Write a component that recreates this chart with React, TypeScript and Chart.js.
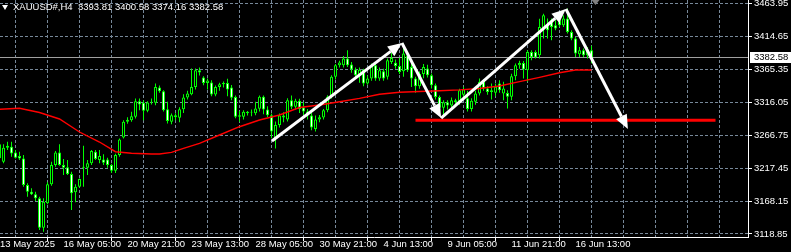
import React, { useEffect, useRef } from "react";
import { Chart, registerables } from "chart.js";
Chart.register(...registerables);

// ---- data (H4 bars, index = bar number from the left edge) ----
const opens = [
  3232, 3226.9, 3250.8, 3249.3, 3240.9, 3235.4, 3231.9, 3192.0, 3182.0, 3178.1,
  3172.2, 3128.2, 3164.7, 3193.1, 3221.9, 3240.9, 3221.9, 3218.5, 3208.5, 3181.1,
  3189.5, 3218.0, 3218.0, 3224.5, 3241.8, 3229.4, 3230.4, 3230.4, 3221.9, 3213.4,
  3236.9, 3263.3, 3286.6, 3289.1, 3294.1, 3317.5, 3315.0, 3303.1, 3315.6, 3315.0,
  3338.0, 3332.5, 3305.6, 3286.6, 3296.6, 3292.6, 3305.6, 3323.1, 3328.0, 3338.9,
  3363.8, 3352.9, 3344.9, 3345.4, 3327.5, 3338.9, 3342.9, 3344.9, 3337.9, 3323.9,
  3294.1, 3294.1, 3299.3, 3300.6, 3299.3, 3306.1, 3324.0, 3305.1, 3296.6, 3261.8,
  3282.0, 3296.0, 3290.0, 3319.0, 3309.0, 3318.0, 3308.0, 3302.0, 3296.0, 3276.0,
  3290.0, 3293.0, 3304.0, 3324.0, 3353.9, 3371.3, 3371.3, 3381.3, 3372.3, 3364.9,
  3356.4, 3364.4, 3344.0, 3351.4, 3371.3, 3351.4, 3362.3, 3353.9, 3376.3, 3375.0,
  3370.0, 3362.3, 3386.0, 3368.8, 3351.4, 3340.0, 3358.0, 3366.4, 3356.4, 3341.4,
  3323.9, 3307.6, 3316.0, 3311.0, 3318.9, 3316.5, 3327.0, 3322.0, 3306.0, 3316.5,
  3329.0, 3346.4, 3336.4, 3331.4, 3330.0, 3344.0, 3329.0, 3329.9, 3324.0, 3354.9,
  3371.3, 3374.8, 3363.8, 3391.2, 3391.2, 3386.3, 3426.1, 3431.1, 3438.5, 3431.1,
  3438.5, 3431.1, 3441.1, 3421.1, 3411.2, 3387.8, 3393.7, 3386.3, 3393.81,
];
const highs = [
  3255, 3252.9, 3256.7, 3256.7, 3244.3, 3241.8, 3236.9, 3194.6, 3187.1, 3182.0,
  3174.6, 3172.2, 3196.1, 3226.9, 3242.8, 3252.9, 3230.9, 3229.4, 3211.9, 3193.1,
  3202.0, 3250.8, 3229.4, 3244.3, 3244.3, 3244.3, 3238.0, 3233.0, 3224.0, 3239.0,
  3261.8, 3289.1, 3293.6, 3301.6, 3321.6, 3321.6, 3319.0, 3317.5, 3321.6, 3344.0,
  3341.0, 3334.0, 3316.5, 3299.0, 3299.6, 3308.6, 3328.0, 3333.0, 3366.4, 3366.4,
  3368.0, 3354.9, 3351.4, 3349.0, 3341.0, 3345.0, 3347.0, 3350.9, 3341.9, 3326.0,
  3303.0, 3304.0, 3303.0, 3305.0, 3316.5, 3326.0, 3326.0, 3310.0, 3299.0, 3287.0,
  3299.0, 3301.0, 3322.0, 3326.0, 3321.0, 3321.0, 3316.0, 3306.0, 3300.0, 3296.0,
  3297.0, 3306.0, 3326.5, 3356.4, 3373.3, 3378.0, 3385.0, 3393.7, 3376.0, 3368.0,
  3368.0, 3366.0, 3356.0, 3374.0, 3375.0, 3368.0, 3366.0, 3381.3, 3390.0, 3380.0,
  3382.0, 3403.7, 3390.0, 3373.9, 3354.0, 3362.0, 3373.0, 3372.0, 3358.9, 3344.0,
  3326.0, 3319.0, 3319.0, 3323.0, 3321.0, 3336.0, 3339.0, 3333.0, 3322.0, 3333.0,
  3351.4, 3350.0, 3340.0, 3344.0, 3344.0, 3349.0, 3346.4, 3333.9, 3358.4, 3374.0,
  3378.0, 3377.8, 3393.7, 3393.7, 3393.7, 3441.0, 3448.5, 3441.1, 3441.1, 3438.5,
  3443.5, 3446.0, 3456.0, 3423.6, 3413.6, 3398.7, 3396.2, 3398.7, 3400.58,
];
const lows = [
  3225, 3224.5, 3244.3, 3234.3, 3231.9, 3229.4, 3189.5, 3174.6, 3177.1, 3168.1,
  3124.8, 3122.3, 3163.2, 3191.0, 3219.4, 3220.9, 3207.0, 3207.0, 3154.7, 3166.2,
  3188.0, 3189.5, 3207.0, 3221.9, 3229.4, 3224.5, 3222.0, 3218.0, 3210.0, 3210.0,
  3234.3, 3261.8, 3283.6, 3286.6, 3291.7, 3304.1, 3289.1, 3301.0, 3312.5, 3311.6,
  3330.0, 3302.0, 3284.2, 3283.0, 3289.0, 3286.0, 3300.0, 3320.0, 3326.5, 3335.0,
  3356.0, 3341.4, 3335.0, 3325.0, 3325.0, 3333.0, 3338.0, 3325.0, 3319.0, 3292.0,
  3286.6, 3290.0, 3296.0, 3295.0, 3296.6, 3302.0, 3298.0, 3294.0, 3262.0, 3246.8,
  3278.0, 3286.0, 3287.0, 3306.0, 3305.0, 3300.0, 3297.0, 3290.0, 3274.0, 3272.0,
  3286.0, 3290.0, 3301.0, 3321.6, 3350.0, 3368.0, 3368.0, 3368.8, 3360.0, 3353.0,
  3345.0, 3340.0, 3342.0, 3348.0, 3348.0, 3348.0, 3348.0, 3350.0, 3373.0, 3366.0,
  3358.0, 3354.0, 3361.3, 3338.9, 3330.0, 3336.0, 3352.0, 3353.0, 3336.4, 3320.0,
  3301.0, 3296.0, 3305.0, 3308.0, 3312.0, 3312.0, 3322.0, 3302.0, 3302.0, 3312.0,
  3326.0, 3333.0, 3327.0, 3320.0, 3325.0, 3330.0, 3319.0, 3306.6, 3319.0, 3349.0,
  3366.0, 3351.4, 3346.4, 3378.8, 3381.3, 3381.3, 3411.2, 3411.2, 3408.7, 3423.6,
  3428.5, 3428.5, 3418.6, 3408.7, 3383.7, 3383.7, 3383.7, 3381.3, 3374.16,
];
const closes = [
  3253, 3247.8, 3247.8, 3239.4, 3232.8, 3231.9, 3192.0, 3182.0, 3178.1, 3172.2,
  3128.2, 3167.1, 3193.1, 3221.9, 3240.9, 3221.9, 3217.9, 3208.5, 3179.6, 3189.5,
  3201.0, 3219.4, 3224.5, 3242.8, 3230.9, 3235.4, 3225.4, 3221.9, 3213.4, 3236.9,
  3260.3, 3286.6, 3289.6, 3295.1, 3317.5, 3312.5, 3303.1, 3315.6, 3316.6, 3338.9,
  3332.5, 3304.1, 3287.7, 3296.6, 3293.6, 3305.6, 3323.1, 3329.0, 3338.9, 3363.8,
  3360.5, 3344.9, 3348.4, 3327.5, 3338.9, 3342.9, 3344.9, 3334.9, 3322.5, 3294.1,
  3296.6, 3301.6, 3301.6, 3301.6, 3306.6, 3324.0, 3305.1, 3296.6, 3272.0, 3282.0,
  3296.0, 3293.0, 3319.0, 3309.0, 3318.0, 3306.0, 3302.0, 3296.0, 3278.0, 3290.0,
  3293.6, 3304.0, 3324.0, 3353.9, 3371.3, 3375.3, 3381.3, 3371.3, 3364.9, 3356.4,
  3364.4, 3344.0, 3351.4, 3371.3, 3351.4, 3363.8, 3351.4, 3378.8, 3382.3, 3370.3,
  3361.3, 3388.7, 3363.8, 3351.4, 3340.0, 3358.0, 3368.8, 3356.4, 3341.4, 3323.9,
  3307.6, 3316.0, 3311.0, 3318.9, 3316.0, 3334.0, 3335.0, 3306.0, 3318.0, 3329.0,
  3346.4, 3336.4, 3331.4, 3334.0, 3339.0, 3334.0, 3336.4, 3324.0, 3354.9, 3371.3,
  3374.8, 3364.9, 3391.2, 3383.7, 3382.8, 3428.5, 3446.0, 3423.6, 3428.5, 3426.1,
  3431.1, 3441.1, 3421.1, 3411.2, 3388.8, 3393.7, 3386.3, 3393.7, 3382.58,
];

// moving average (red) read at sample bars
const maBars = [0, 5, 10, 15, 20, 25, 29, 33, 38, 40, 43, 46, 50, 55, 60, 65, 70, 75, 80, 85, 90, 95, 100, 105, 110, 115, 120, 125, 130, 135, 140, 144, 148];
const maValues = [3305.4, 3306.9, 3300.6, 3290.9, 3271.4, 3256.4, 3241.9, 3239.5, 3238.5, 3238.5, 3241.0, 3247.0, 3254.5, 3266.9, 3279.3, 3289.4, 3296.8, 3308.1, 3311.8, 3316.7, 3321.8, 3327.8, 3330.8, 3332.0, 3333.2, 3334.5, 3336.5, 3340.2, 3346.7, 3353.2, 3360.1, 3364.2, 3364.2];

// drawn objects
const levelBars = [104, 179];
const levelPrice = 3288.9;
const arrowBars = [68.1, 100.6, 110.4, 141.6, 157.1];
const arrowPrices = [3257.9, 3404.6, 3292.3, 3455.4, 3275.9];
const shiftBar = 149;

// axes
const yTicks = [3118.85, 3168.15, 3217.45, 3266.75, 3316.05, 3365.35, 3414.65, 3463.95];
const tickBars = [0, 16, 32, 48, 64, 80, 96, 112, 128, 144];
const tickLabels = ["13 May 2025", "16 May 05:00", "20 May 21:00", "23 May 13:00", "28 May 05:00", "30 May 21:00", "4 Jun 13:00", "9 Jun 05:00", "11 Jun 21:00", "16 Jun 13:00"];
const gridBars = [8, 16, 24, 32, 40, 48, 56, 64, 72, 80, 88, 96, 104, 112, 120, 128, 136, 144, 152, 160, 168, 176, 184];

const header = "XAUUSD#,H4  3393.81 3400.58 3374.16 3382.58";

const X_MIN = 0.125;
const X_MAX = 187.125;
const Y_MIN = 3114.3;
const Y_MAX = 3468.9;
const FONT = '"Liberation Sans", Arial, sans-serif';
const LIME = "#00ff00";

function drawArrow(ctx: CanvasRenderingContext2D, x1: number, y1: number, x2: number, y2: number) {
  const ang = Math.atan2(y2 - y1, x2 - x1);
  const headLen = 14;
  const headW = 6;
  const bx = x2 - Math.cos(ang) * headLen;
  const by = y2 - Math.sin(ang) * headLen;
  ctx.beginPath();
  ctx.moveTo(x1, y1);
  ctx.lineTo(bx, by);
  ctx.stroke();
  ctx.beginPath();
  ctx.moveTo(x2, y2);
  ctx.lineTo(bx + Math.sin(ang) * headW, by - Math.cos(ang) * headW);
  ctx.lineTo(bx - Math.sin(ang) * headW, by + Math.cos(ang) * headW);
  ctx.closePath();
  ctx.fill();
}

const overlayPlugin = {
  id: "mtOverlay",
  beforeDatasetsDraw(chart: any) {
    const { ctx, chartArea, scales } = chart;
    const last = closes[closes.length - 1];
    const yp = Math.floor(scales.y.getPixelForValue(last)) + 0.5;
    ctx.save();
    ctx.strokeStyle = "#a0a0a0";
    ctx.lineWidth = 1;
    ctx.beginPath();
    ctx.moveTo(chartArea.left, yp);
    ctx.lineTo(chartArea.right, yp);
    ctx.stroke();
    ctx.restore();
  },
  afterDatasetsDraw(chart: any) {
    const { ctx, scales, chartArea } = chart;
    ctx.save();
    ctx.beginPath();
    ctx.rect(chartArea.left, chartArea.top, chartArea.right - chartArea.left, chartArea.bottom - chartArea.top);
    ctx.clip();
    ctx.strokeStyle = "#ffffff";
    ctx.fillStyle = "#ffffff";
    ctx.lineWidth = 3;
    for (let i = 0; i < arrowBars.length - 1; i++) {
      drawArrow(
        ctx,
        scales.x.getPixelForValue(arrowBars[i]),
        scales.y.getPixelForValue(arrowPrices[i]),
        scales.x.getPixelForValue(arrowBars[i + 1]),
        scales.y.getPixelForValue(arrowPrices[i + 1])
      );
    }
    ctx.restore();
  },
  afterDraw(chart: any) {
    const { ctx, chartArea, scales, width } = chart;
    const last = closes[closes.length - 1];
    const yp = scales.y.getPixelForValue(last);
    ctx.save();
    const top = Math.round(yp) - 6;
    ctx.fillStyle = "#ffffff";
    ctx.fillRect(chartArea.right + 2, top, width - chartArea.right - 2, 11);
    ctx.fillStyle = "#000000";
    ctx.font = `9.5px ${FONT}`;
    ctx.textBaseline = "middle";
    ctx.textAlign = "left";
    ctx.fillText(last.toFixed(2), chartArea.right + 6, top + 5.5);
    // chart shift marker
    const cx = scales.x.getPixelForValue(shiftBar);
    ctx.fillStyle = "#808080";
    ctx.beginPath();
    ctx.moveTo(cx - 4, chartArea.top);
    ctx.lineTo(cx + 4, chartArea.top);
    ctx.lineTo(cx, chartArea.top + 5);
    ctx.closePath();
    ctx.fill();
    ctx.restore();
  },
};

export default function App() {
  const ref = useRef<HTMLCanvasElement>(null);

  useEffect(() => {
    const canvas = ref.current;
    if (!canvas) return;
    const wickData = highs.map((h, i) => ({ x: i, y: [lows[i], h] }));
    const bodyData = opens.map((o, i) => ({ x: i, y: [o, closes[i]] }));
    const bodyFill = opens.map((o, i) => (closes[i] >= o ? "#000000" : "#ffffff"));
    const maData = maBars.map((b, i) => ({ x: b, y: maValues[i] }));
    const levelData = levelBars.map((b) => ({ x: b, y: levelPrice }));

    const isLabelTick = (v: number) => v === X_MIN || tickBars.indexOf(v) >= 0;
    const labelFor = (v: number) => {
      const idx = tickBars.indexOf(v === X_MIN ? 0 : v);
      return idx >= 0 ? tickLabels[idx] : "";
    };

    const chart = new Chart(canvas, {
      type: "bar",
      data: {
        datasets: [
          {
            type: "line",
            data: levelData,
            borderColor: "#ff0000",
            borderWidth: 3,
            pointRadius: 0,
            order: 0,
          } as any,
          {
            type: "line",
            data: maData,
            borderColor: "#ff0000",
            borderWidth: 1.4,
            pointRadius: 0,
            tension: 0,
            order: 1,
          } as any,
          {
            type: "bar",
            data: bodyData,
            backgroundColor: bodyFill,
            borderColor: LIME,
            borderWidth: 1,
            borderSkipped: false,
            barThickness: 3,
            grouped: false,
            inflateAmount: 0,
            order: 2,
          } as any,
          {
            type: "bar",
            data: wickData,
            backgroundColor: LIME,
            borderWidth: 0,
            barThickness: 1,
            grouped: false,
            inflateAmount: 0,
            order: 3,
          } as any,
        ],
      },
      options: {
        responsive: false,
        maintainAspectRatio: false,
        devicePixelRatio: 1,
        animation: false,
        events: [],
        layout: { padding: 0 },
        plugins: { legend: { display: false }, tooltip: { enabled: false }, title: { display: false } },
        scales: {
          x: {
            type: "linear",
            min: X_MIN,
            max: X_MAX,
            offset: false,
            afterBuildTicks: (s: any) => {
              s.ticks = [X_MIN, ...gridBars].map((v) => ({ value: v }));
            },
            afterFit: (s: any) => {
              s.height = 15;
              s.paddingLeft = 0;
              s.paddingRight = 0;
            },
            grid: {
              color: (c: any) => (c.tick && c.tick.value === X_MIN ? "rgba(0,0,0,0)" : "#778899"),
              lineWidth: 1,
              drawTicks: true,
              tickLength: 4,
              tickColor: (c: any) => (c.tick && c.tick.value !== X_MIN && isLabelTick(c.tick.value) ? "#ffffff" : "rgba(0,0,0,0)"),
              tickBorderDash: [],
            },
            border: { display: true, color: "#ffffff", width: 1, dash: [3, 2] },
            ticks: {
              autoSkip: false,
              maxRotation: 0,
              minRotation: 0,
              align: "start",
              padding: -1,
              color: "#ffffff",
              font: { family: FONT, size: 9.5, lineHeight: 1 },
              callback: (v: any) => labelFor(Number(v)),
            },
          },
          y: {
            type: "linear",
            position: "right",
            min: Y_MIN,
            max: Y_MAX,
            afterBuildTicks: (s: any) => {
              s.ticks = yTicks.map((v) => ({ value: v }));
            },
            afterFit: (s: any) => {
              s.width = 43;
              s.paddingTop = 0;
              s.paddingBottom = 0;
            },
            grid: {
              color: "#778899",
              lineWidth: 1,
              drawTicks: true,
              tickLength: 4,
              tickColor: "#ffffff",
              tickBorderDash: [],
            },
            border: { display: true, color: "#ffffff", width: 1, dash: [3, 2] },
            ticks: {
              padding: 2,
              color: "#ffffff",
              font: { family: FONT, size: 9.5, lineHeight: 1 },
              callback: (v: any) => Number(v).toFixed(2),
            },
          },
        },
      } as any,
      plugins: [overlayPlugin as any],
    });
    return () => chart.destroy();
  }, []);

  return (
    <div style={{ position: "fixed", left: 0, top: 0, width: 791, height: 252, background: "#000", overflow: "hidden" }}>
      <canvas ref={ref} width={791} height={252} style={{ display: "block", width: 791, height: 252 }} />
      <div
        style={{
          position: "absolute",
          left: 2,
          top: 5,
          width: 0,
          height: 0,
          borderLeft: "3.5px solid transparent",
          borderRight: "3.5px solid transparent",
          borderTop: "5px solid #ffffff",
        }}
      />
      <div
        style={{
          position: "absolute",
          left: 13,
          top: 1,
          fontFamily: FONT,
          fontSize: "9.5px",
          lineHeight: "12px",
          color: "#ffffff",
          whiteSpace: "pre",
        }}
      >
        {header}
      </div>
    </div>
  );
}
